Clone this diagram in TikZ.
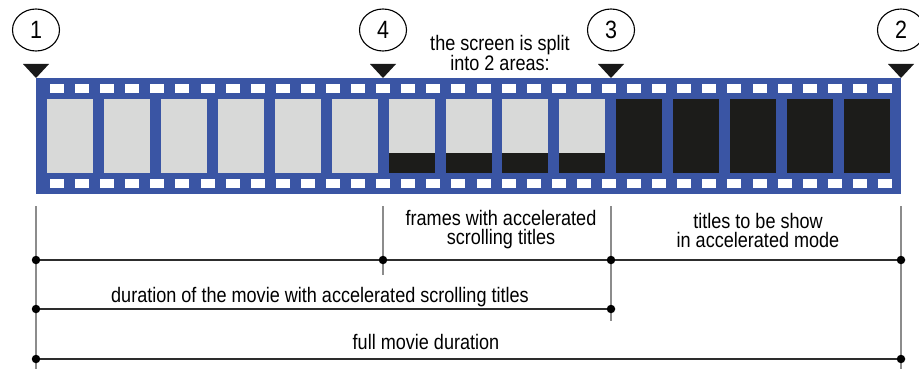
\documentclass[tikz,border=0pt]{standalone}
\usepackage{fontspec}
\setmainfont[FakeStretch=0.86]{Liberation Sans}
\usepackage{tikz}
\usetikzlibrary{positioning, shapes.geometric}
\definecolor{filmblue}{RGB}{58,85,164}
\definecolor{framegray}{RGB}{216,217,216}
\definecolor{framedark}{RGB}{28,28,26}
\definecolor{guidegray}{RGB}{140,140,140}
\definecolor{spanline}{RGB}{45,45,45}

\tikzset{
  marker/.style={ellipse, draw=black, line width=1.1pt, minimum width=47pt,
                 minimum height=42pt, inner sep=0pt,
                 font=\fontsize{25}{25}\selectfont},
  lbl/.style={font=\fontsize{21}{19}\selectfont, align=center, inner sep=0pt},
  dot/.style={circle, fill=black, inner sep=0pt, minimum size=8.5pt},
  guide/.style={guidegray, line width=1.6pt},
  span/.style={spanline, line width=1.6pt}
}

\begin{document}
\begin{tikzpicture}[x=1pt, y=-1pt]
    \useasboundingbox (0,0) rectangle (919,369);
    % film strip
    \fill[filmblue] (36,78) rectangle (901,194);
    % sprocket holes
    \foreach \i in {0,...,33} {
      \fill[white] ({50+25.09*\i},84) rectangle ++(14,9);
      \fill[white] ({50+25.09*\i},179) rectangle ++(14,9);
    }
    % frames without titles
    \foreach \i in {0,...,5}
      \fill[framegray] ({47+56.93*\i},99) rectangle ++(46,74);
    % frames with scrolling titles
    \foreach \i in {6,...,9} {
      \fill[framegray] ({47+56.93*\i},99) rectangle ++(46,74);
      \fill[framedark] ({47+56.93*\i},153) rectangle ++(46,20);
    }
    % frames with titles only
    \foreach \i in {10,...,14}
      \fill[framedark] ({47+56.93*\i},99) rectangle ++(46,74);
    % markers
    \foreach \n/\x in {1/36, 4/383, 3/611, 2/901} {
      \node[marker] (c\n) at (\x,30) {\n};
      \fill[black!90] (\x-13,64) -- (\x+13,64) -- (\x,78) -- cycle;
      \coordinate (g\n) at (\x,206);
    }
    \node[lbl] (split) at (500,53) {the screen is split\\into 2 areas:};
    % guide lines
    \coordinate (e1) at (36,372);
    \coordinate (e4) at (383,275);
    \coordinate (e3) at (611,321);
    \coordinate (e2) at (901,372);
    \foreach \n in {1,4,3,2}
      \draw[guide] (g\n) -- (e\n);
    % time spans
    \node[dot] (a1) at (36,260) {};
    \node[dot] (a4) at (383,260) {};
    \node[dot] (a3) at (611,260) {};
    \node[dot] (a2) at (901,260) {};
    \node[dot] (m1) at (36,309) {};
    \node[dot] (m3) at (611,309) {};
    \node[dot] (f1) at (36,359) {};
    \node[dot] (f2) at (901,359) {};
    \draw[span] (a1) -- (a4) -- (a3) -- (a2);
    \draw[span] (m1) -- (m3);
    \draw[span] (f1) -- (f2);
    % labels
    \node[lbl] (scroll) at (501,230) {frames with accelerated\\scrolling titles};
    \node[lbl] (shown) at (758,230) {titles to be show\\in accelerated mode};
    \node[lbl] (accel) at (320,297) {duration of the movie with accelerated scrolling titles};
    \node[lbl] (full) at (426,342) {full movie duration};
\end{tikzpicture}
\end{document}
